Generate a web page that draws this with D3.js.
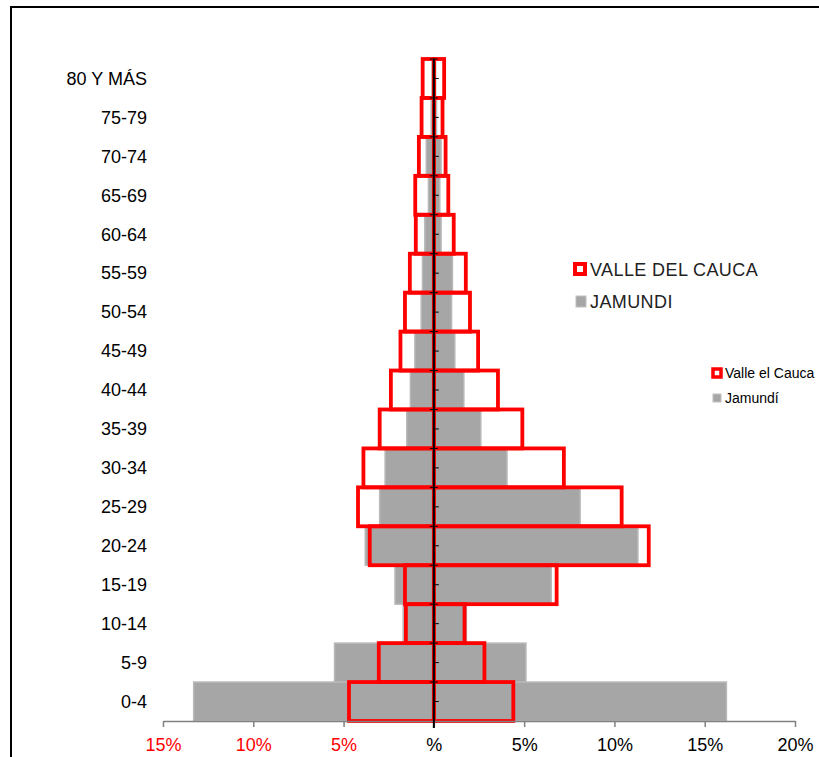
<!DOCTYPE html>
<html>
<head>
<meta charset="utf-8">
<script src="https://cdn.jsdelivr.net/npm/d3@7"></script>
<style>
  body { margin: 0; background: #fff; }
  svg { font-family: "Liberation Sans", Arial, sans-serif; }
</style>
</head>
<body>
<script>
// age groups, bottom to top
var ageGroups = ["0-4", "5-9", "10-14", "15-19", "20-24", "25-29", "30-34", "35-39",
                 "40-44", "45-49", "50-54", "55-59", "60-64", "65-69", "70-74", "75-79", "80 Y MÁS"];
// Jamundí (grey bars), percent of population
var jamundiLeft  = [13.3, 5.5, 1.7, 2.15, 3.8, 3.0, 2.7, 1.5, 1.3, 1.05, 0.7, 0.63, 0.5, 0.3, 0.42, 0.15, 0.1];
var jamundiRight = [16.2, 5.1, 1.8, 6.5, 11.3, 8.1, 4.05, 2.6, 1.66, 1.16, 0.98, 1.03, 0.4, 0.33, 0.4, 0.15, 0.1];
// Valle del Cauca (red outlined bars)
var valleLeft  = [4.7, 3.05, 1.55, 1.6, 3.55, 4.2, 3.9, 3.0, 2.38, 1.85, 1.6, 1.33, 1.0, 1.03, 0.83, 0.68, 0.62];
var valleRight = [4.4, 2.8, 1.7, 6.8, 11.9, 10.4, 7.2, 4.9, 3.55, 2.45, 2.0, 1.77, 1.1, 0.8, 0.65, 0.48, 0.57];
// x axis ticks
var xTicks = [-15, -10, -5, 0, 5, 10, 15, 20];

function drawPyramid() {
  var w = 819, h = 757;
  var svg = d3.select("body").append("svg")
      .attr("width", w)
      .attr("height", h);

  // outer frame (only top and left visible)
  svg.append("path")
     .attr("d", "M11,757 L11,7 L819,7")
     .attr("fill", "none")
     .attr("stroke", "#000")
     .attr("stroke-width", 2);

  var xScale = d3.scaleLinear().domain([-15, 20]).range([163, 795]);
  var yScale = d3.scaleBand().domain(ageGroups).range([721, 59]).padding(0);
  var bw = yScale.bandwidth();

  // grey bars: Jamundí
  var grey = ageGroups.map(function(g, i) { return {g: g, l: jamundiLeft[i], r: jamundiRight[i]}; });
  svg.selectAll("rect.jam")
     .data(grey)
     .enter()
     .append("rect")
     .attr("class", "jam")
     .attr("x", d => xScale(-d.l))
     .attr("y", d => yScale(d.g))
     .attr("width", d => xScale(d.r) - xScale(-d.l))
     .attr("height", bw)
     .attr("fill", "#a6a6a6")
     .attr("stroke", "#b8b8b8")
     .attr("stroke-width", 1.5);

  // red outlines: Valle del Cauca (left and right halves)
  var red = [];
  ageGroups.forEach(function(g, i) {
    red.push({g: g, x0: -valleLeft[i], x1: 0});
    red.push({g: g, x0: 0, x1: valleRight[i]});
  });
  svg.selectAll("rect.valle")
     .data(red)
     .enter()
     .append("rect")
     .attr("class", "valle")
     .attr("x", d => xScale(d.x0))
     .attr("y", d => yScale(d.g))
     .attr("width", d => xScale(d.x1) - xScale(d.x0))
     .attr("height", bw)
     .attr("fill", "none")
     .attr("stroke", "#ff0000")
     .attr("stroke-width", 3.8);

  // x axis
  var xAxis = d3.axisBottom(xScale)
      .tickValues(xTicks)
      .tickSize(6)
      .tickSizeOuter(0)
      .tickFormat(d => d === 0 ? "%" : Math.abs(d) + "%");
  var gx = svg.append("g")
     .attr("transform", "translate(0,721)")
     .call(xAxis);
  gx.select(".domain").attr("stroke", "#808080").attr("stroke-width", 1.5);
  gx.selectAll(".tick line").attr("stroke", "#808080").attr("stroke-width", 1.5);
  gx.selectAll(".tick text")
     .attr("y", 17)
     .attr("font-size", "18px")
     .attr("font-family", "Liberation Sans, Arial, sans-serif")
     .attr("fill", d => d < 0 ? "#ff0000" : "#000");

  // central category axis
  var zx = xScale(0);
  svg.append("line")
     .attr("x1", zx).attr("x2", zx)
     .attr("y1", 59).attr("y2", 728)
     .attr("stroke", "#000")
     .attr("stroke-width", 2);
  svg.selectAll("line.minor")
     .data(ageGroups)
     .enter()
     .append("line")
     .attr("x1", zx).attr("x2", zx + 5)
     .attr("y1", d => yScale(d) + bw / 2)
     .attr("y2", d => yScale(d) + bw / 2)
     .attr("stroke", "#000")
     .attr("stroke-width", 1);
  svg.selectAll("line.major")
     .data(ageGroups)
     .enter()
     .append("line")
     .attr("x1", zx - 4).attr("x2", zx + 4)
     .attr("y1", d => yScale(d))
     .attr("y2", d => yScale(d))
     .attr("stroke", "#000")
     .attr("stroke-width", 1);

  // age labels on the left
  svg.selectAll("text.age")
     .data(ageGroups)
     .enter()
     .append("text")
     .attr("class", "age")
     .attr("x", 147)
     .attr("y", d => yScale(d) + bw / 2)
     .attr("dy", "0.35em")
     .attr("text-anchor", "end")
     .attr("font-size", "18px")
     .attr("fill", "#000")
     .text(d => d);

  // big legend
  var leg1 = svg.append("g");
  leg1.append("rect").attr("x", 575).attr("y", 264).attr("width", 10).attr("height", 10)
      .attr("fill", "#fff").attr("stroke", "#ff0000").attr("stroke-width", 4);
  leg1.append("text").attr("x", 590).attr("y", 276).attr("font-size", "18px")
      .attr("letter-spacing", "0.4px")
      .attr("fill", "#222").text("VALLE DEL CAUCA");
  leg1.append("rect").attr("x", 576).attr("y", 296).attr("width", 10).attr("height", 11)
      .attr("fill", "#a6a6a6").attr("stroke", "#c0c0c0").attr("stroke-width", 1);
  leg1.append("text").attr("x", 590).attr("y", 308).attr("font-size", "18px")
      .attr("letter-spacing", "0.4px")
      .attr("fill", "#222").text("JAMUNDI");

  // small legend
  var leg2 = svg.append("g");
  leg2.append("rect").attr("x", 713).attr("y", 369).attr("width", 8).attr("height", 8)
      .attr("fill", "#fff").attr("stroke", "#ff0000").attr("stroke-width", 3.5);
  leg2.append("text").attr("x", 725).attr("y", 378).attr("font-size", "14px")
      .attr("fill", "#000").text("Valle el Cauca");
  leg2.append("rect").attr("x", 713).attr("y", 394).attr("width", 8).attr("height", 8)
      .attr("fill", "#a6a6a6").attr("stroke", "#c0c0c0").attr("stroke-width", 1);
  leg2.append("text").attr("x", 725).attr("y", 403).attr("font-size", "14px")
      .attr("fill", "#000").text("Jamundí");
}

window.onload = function() {
  drawPyramid();
};
</script>
</body>
</html>
